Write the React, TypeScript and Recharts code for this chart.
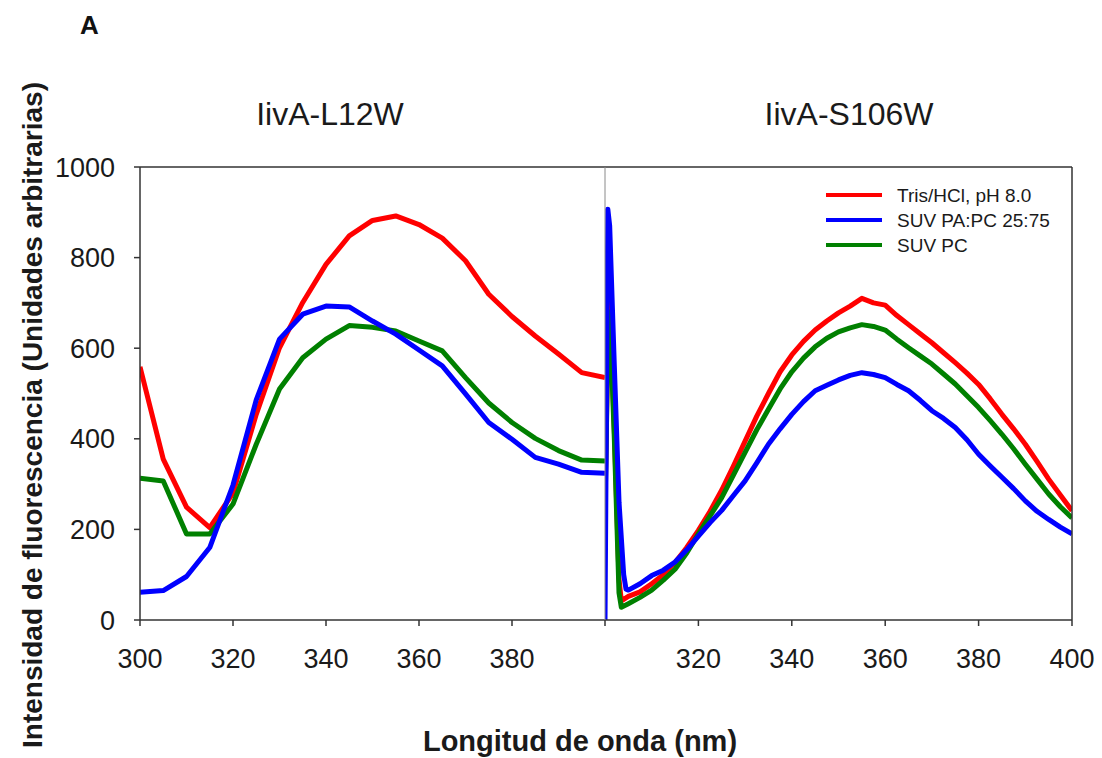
import React from 'react';
import { LineChart, Line, XAxis, YAxis } from 'recharts';

// ---- Left panel (IlvA-L12W), 5 nm steps ----
const leftWavelengths = [300, 305, 310, 315, 320, 325, 330, 335, 340, 345, 350, 355, 360, 365, 370, 375, 380, 385, 390, 395, 400];
const leftTris = [559, 355, 249, 204, 280, 454, 601, 701, 785, 848, 882, 892, 873, 843, 793, 719, 670, 627, 587, 546, 535];
const leftPaPc = [61, 65, 96, 160, 298, 486, 620, 675, 693, 691, 660, 631, 596, 561, 499, 436, 399, 359, 344, 326, 324];
const leftPc = [313, 307, 190, 190, 256, 388, 510, 579, 620, 650, 646, 638, 616, 594, 535, 479, 436, 401, 374, 353, 351];

// ---- Right panel (IlvA-S106W) ----
const rightWavelengths = [305, 307.5, 310, 312.5, 315, 317.5, 320, 322.5, 325, 327.5, 330, 332.5, 335, 337.5, 340, 342.5, 345, 347.5, 350, 352.5, 355, 357.5, 360, 362.5, 365, 367.5, 370, 372.5, 375, 377.5, 380, 382.5, 385, 387.5, 390, 392.5, 395, 397.5, 400];
const rightTris = [52, 62, 80, 100, 127, 160, 198, 240, 287, 340, 395, 450, 500, 548, 585, 615, 640, 660, 678, 693, 710, 700, 695, 672, 652, 632, 612, 590, 568, 545, 520, 488, 454, 422, 388, 350, 311, 276, 241];
const rightPaPc = [66, 80, 98, 110, 128, 155, 185, 215, 242, 275, 307, 347, 388, 422, 454, 482, 506, 518, 530, 540, 546, 542, 535, 520, 506, 485, 462, 445, 425, 398, 366, 340, 315, 290, 263, 240, 222, 205, 190];
const rightPc = [36, 50, 66, 88, 112, 148, 190, 230, 270, 320, 370, 420, 465, 510, 548, 578, 603, 622, 636, 645, 652, 648, 640, 620, 601, 583, 565, 543, 521, 495, 469, 440, 410, 378, 344, 311, 278, 250, 225];

// start-of-scan scatter spike (right panel)
const trisSpikeNm = [300, 300.5, 301, 302, 303, 303.5];
const trisSpikeVal = [250, 560, 700, 420, 90, 42];
const paPcSpikeNm = [300, 300.6, 301, 302, 303, 304, 304.5];
const paPcSpikeVal = [0, 907, 870, 560, 260, 100, 68];
const pcSpikeNm = [300, 300.5, 301, 302, 303, 303.5];
const pcSpikeVal = [240, 540, 680, 400, 60, 28];

const yTicks = [0, 200, 400, 600, 800, 1000];
const leftXTicks = [300, 320, 340, 360, 380];
const rightXTicks = [300, 320, 340, 360, 380, 400];

const seriesNames = ['Tris/HCl, pH 8.0', 'SUV PA:PC 25:75', 'SUV PC'];
const seriesColors = ['#ff0000', '#0000ff', '#008000'];

const leftData = leftWavelengths.map((nm, i) => ({ nm, tris: leftTris[i], papc: leftPaPc[i], pc: leftPc[i] }));
const build = (spNm: number[], spVal: number[], vals: number[]) =>
  spNm.map((nm, i) => ({ nm, v: spVal[i] })).concat(rightWavelengths.map((nm, i) => ({ nm, v: vals[i] })));
const rightTrisData = build(trisSpikeNm, trisSpikeVal, rightTris);
const rightPaPcData = build(paPcSpikeNm, paPcSpikeVal, rightPaPc);
const rightPcData = build(pcSpikeNm, pcSpikeVal, rightPc);

const FONT = 'Arial, "Liberation Sans", Helvetica, sans-serif';
const AXIS = '#333333';
const tickStyle = { fontSize: 27, fill: '#1a1a1a', fontFamily: FONT };

export default function App() {
  return (
    <div style={{ position: 'absolute', left: 0, top: 0, width: 1102, height: 758, background: '#fff', fontFamily: FONT, overflow: 'hidden' }}>
      <div style={{ position: 'absolute', left: 0, top: 0 }}>
        <LineChart width={605} height={758} data={leftData} margin={{ top: 166, right: 0, bottom: 137, left: 0 }}>
          <XAxis xAxisId="b" dataKey="nm" type="number" domain={[300, 400]} ticks={leftXTicks} allowDataOverflow
            height={1} tickSize={6} tickMargin={23} stroke={AXIS} strokeWidth={1.5} tick={tickStyle} interval={0} />
          <XAxis xAxisId="t" orientation="top" dataKey="nm" type="number" domain={[300, 400]} height={1}
            tick={false} tickLine={false} stroke={AXIS} strokeWidth={1.5} />
          <YAxis type="number" domain={[0, 1000]} ticks={yTicks} width={140} tickSize={6} tickMargin={19}
            stroke={AXIS} strokeWidth={1.5} tick={tickStyle} allowDataOverflow interval={0} />
          <Line xAxisId="b" dataKey="tris" stroke={seriesColors[0]} strokeWidth={5} dot={false} isAnimationActive={false} strokeLinejoin="round" />
          <Line xAxisId="b" dataKey="pc" stroke={seriesColors[2]} strokeWidth={5} dot={false} isAnimationActive={false} strokeLinejoin="round" />
          <Line xAxisId="b" dataKey="papc" stroke={seriesColors[1]} strokeWidth={5} dot={false} isAnimationActive={false} strokeLinejoin="round" />
        </LineChart>
      </div>
      <div style={{ position: 'absolute', left: 604, top: 0 }}>
        <LineChart width={498} height={758} margin={{ top: 166, right: 29, bottom: 137, left: 0 }}>
          <XAxis xAxisId="b" dataKey="nm" type="number" domain={[300, 400]} ticks={rightXTicks} allowDataOverflow
            height={1} tickSize={6} tickMargin={23} stroke={AXIS} strokeWidth={1.5} tick={tickStyle} interval={0}
            tickFormatter={(v: number) => (v === 300 ? '' : String(v))} />
          <XAxis xAxisId="t" orientation="top" dataKey="nm" type="number" domain={[300, 400]} height={1}
            tick={false} tickLine={false} stroke={AXIS} strokeWidth={1.5} />
          <YAxis type="number" domain={[0, 1000]} width={1} tick={false} tickLine={false} stroke="#8a8a8a" strokeWidth={1} allowDataOverflow />
          <YAxis yAxisId="r" orientation="right" type="number" domain={[0, 1000]} width={1} tick={false} tickLine={false} stroke={AXIS} strokeWidth={1.5} />
          <Line xAxisId="b" data={rightTrisData} dataKey="v" name={seriesNames[0]} stroke={seriesColors[0]} strokeWidth={5} dot={false} isAnimationActive={false} strokeLinejoin="round" />
          <Line xAxisId="b" data={rightPcData} dataKey="v" name={seriesNames[2]} stroke={seriesColors[2]} strokeWidth={5} dot={false} isAnimationActive={false} strokeLinejoin="round" />
          <Line xAxisId="b" data={rightPaPcData} dataKey="v" name={seriesNames[1]} stroke={seriesColors[1]} strokeWidth={5} dot={false} isAnimationActive={false} strokeLinejoin="round" />
        </LineChart>
      </div>
      <svg width={1102} height={758} style={{ position: 'absolute', left: 0, top: 0, pointerEvents: 'none' }}>
        <text x={80} y={34} fontSize={26} fontWeight="bold" fill="#111" fontFamily={FONT}>A</text>
        <text x={330} y={125} fontSize={32} textAnchor="middle" fill="#1a1a1a" fontFamily={FONT}>IivA-L12W</text>
        <text x={849} y={125} fontSize={32} textAnchor="middle" fill="#1a1a1a" fontFamily={FONT}>IivA-S106W</text>
        <text x={0} y={0} fontSize={28} fontWeight="bold" textAnchor="middle" dominantBaseline="central" fill="#1a1a1a" fontFamily={FONT}
          transform="translate(32,415) rotate(-90)">Intensidad de fluorescencia (Unidades arbitrarias)</text>
        <text x={580} y={751} fontSize={29} fontWeight="bold" textAnchor="middle" fill="#1a1a1a" fontFamily={FONT}>Longitud de onda (nm)</text>
        {seriesNames.map((n, i) => (
          <g key={n}>
            <line x1={826} x2={882} y1={195 + i * 25} y2={195 + i * 25} stroke={seriesColors[i]} strokeWidth={4} />
            <text x={897} y={202 + i * 25} fontSize={19} fill="#1a1a1a" fontFamily={FONT}>{n}</text>
          </g>
        ))}
      </svg>
    </div>
  );
}
